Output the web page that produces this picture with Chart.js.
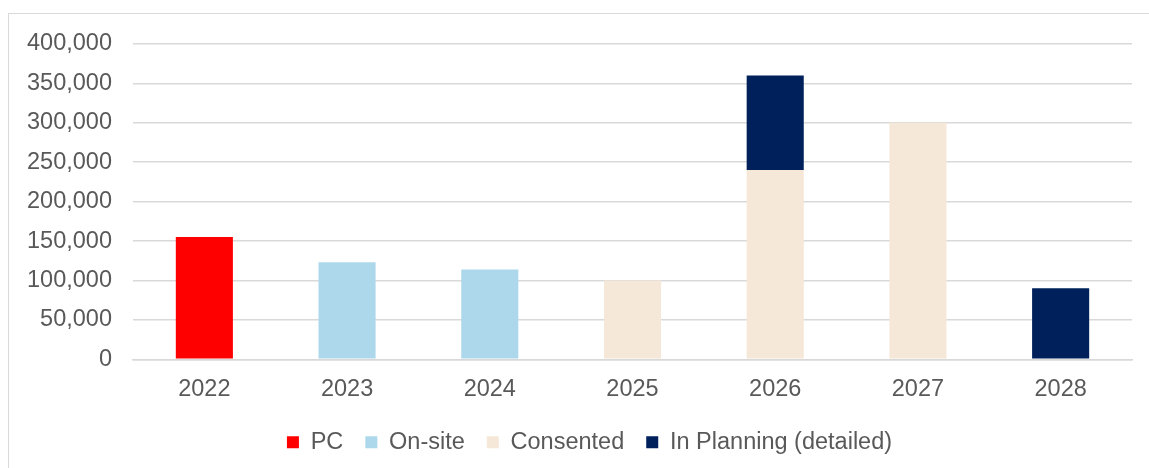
<!DOCTYPE html>
<html>
<head>
<meta charset="utf-8">
<script src="https://cdn.jsdelivr.net/npm/chart.js@4/dist/chart.umd.min.js"></script>
<style>
  html, body { margin: 0; padding: 0; background: #fff; }
  #frame {
    position: absolute; left: 8px; top: 13px; width: 1160px; height: 470px;
    border: 1px solid #d9d9d9; box-sizing: border-box;
  }
  #chart { position: absolute; left: 0; top: 0; }
</style>
</head>
<body>
<div id="frame"></div>
<canvas id="chart" width="1149" height="468"></canvas>
<script>
const years = ["2022", "2023", "2024", "2025", "2026", "2027", "2028"];
const pc = [155000, null, null, null, null, null, null];
const onSite = [null, 123000, 114000, null, null, null, null];
const consented = [null, null, null, 100000, 240000, 300000, null];
const inPlanning = [null, null, null, null, 120000, null, 90000];

const textColor = "#595959";
const gridColor = "#d9d9d9";
const fontFamily = "'Liberation Sans', Arial, sans-serif";

// nudge the legend right so it sits where the original one does
const legendShift = {
  id: "legendShift",
  afterLayout(chart) {
    chart.legend.left += 10;
    chart.legend.right += 10;
  },
};

const ctx = document.getElementById("chart").getContext("2d");
new Chart(ctx, {
  type: "bar",
  data: {
    labels: years,
    datasets: [
      { label: "PC", data: pc, backgroundColor: "#ff0000" },
      { label: "On-site", data: onSite, backgroundColor: "#add8ec" },
      { label: "Consented", data: consented, backgroundColor: "#f5e8d8" },
      { label: "In Planning (detailed)", data: inPlanning, backgroundColor: "#00205b" },
    ],
  },
  options: {
    responsive: false,
    animation: false,
    barPercentage: 0.4,
    categoryPercentage: 1,
    layout: { padding: { left: 27, right: 17, top: 44, bottom: 4 } },
    plugins: {
      tooltip: { enabled: false },
      legend: {
        display: true,
        position: "bottom",
        labels: {
          color: textColor,
          font: { family: fontFamily, size: 23.5 },
          boxWidth: 12,
          boxHeight: 12,
          padding: 22,
        },
      },
    },
    scales: {
      x: {
        stacked: true,
        grid: { display: false, drawTicks: false },
        border: { display: true, color: gridColor, width: 1.5 },
        ticks: { color: textColor, font: { family: fontFamily, size: 23.5 }, padding: 16 },
        afterFit: (scale) => { scale.height -= 11; },
      },
      y: {
        stacked: true,
        min: 0,
        max: 400000,
        grid: { color: gridColor, lineWidth: 1.5, drawTicks: false },
        border: { display: false },
        ticks: {
          stepSize: 50000,
          color: textColor,
          font: { family: fontFamily, size: 23.5 },
          padding: 21,
          callback: (v) => v.toLocaleString("en-US"),
        },
        afterFit: (scale) => { scale.width = 106; },
      },
    },
  },
  plugins: [legendShift],
});
</script>
</body>
</html>
